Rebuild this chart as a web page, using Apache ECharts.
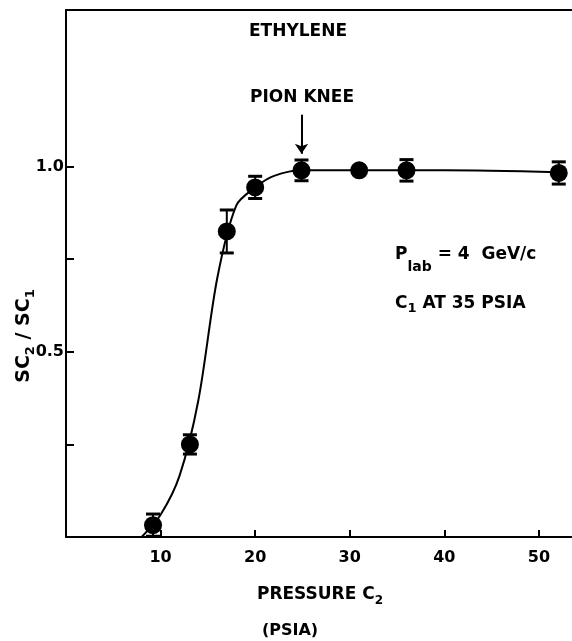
<!DOCTYPE html>
<html>
<head>
<meta charset="utf-8">
<script src="https://cdn.jsdelivr.net/npm/echarts@6/dist/echarts.min.js"></script>
<style>
  html, body { margin: 0; padding: 0; background: #fff; }
  #main { width: 572px; height: 641px; }
</style>
</head>
<body>
<div id="main"></div>
<script>
  // measured points (pressure C2 in PSIA, ratio SC2/SC1, half error bar)
  const pressure = [9.2, 13.1, 17.0, 20.0, 24.9, 31.0, 36.0, 52.1];
  const ratio = [0.032, 0.25, 0.825, 0.944, 0.99, 0.99, 0.99, 0.983];
  const ratioErr = [0.03, 0.026, 0.058, 0.03, 0.028, 0, 0.029, 0.03];

  // hand drawn fit curve
  const curveX = [8, 10, 12, 14, 16, 18, 20, 22, 25, 30, 40, 52.1];
  const curveY = [0.0, 0.06, 0.165, 0.37, 0.70, 0.895, 0.944, 0.975, 0.99, 0.99, 0.99, 0.985];

  // axis ticks
  const xTicks = [10, 20, 30, 40, 50];
  const yTicks = [0.25, 0.5, 0.75, 1.0];
  const yLabelVals = [0.5, 1.0];

  const FONT = '"DejaVu Sans", sans-serif';
  var ctx = document.createElement("canvas").getContext("2d");
  function measure(font, text) {
    ctx.font = font;
    return ctx.measureText(text).width;
  }
  // a run of text with subscripts, laid out piece by piece
  function textRun(x, y, parts, align, rotation) {
    var children = [];
    var cx = 0;
    parts.forEach(function (p) {
      var font = "bold " + p[1] + "px " + FONT;
      children.push({
        type: "text",
        x: cx,
        y: p[2] || 0,
        style: { text: p[0], font: font, fill: "#000", textAlign: "left", textVerticalAlign: "middle" },
      });
      cx += measure(font, p[0]);
    });
    if (align === "center") {
      children.forEach(function (c) { c.x -= cx / 2; });
    }
    return { type: "group", x: x, y: y, rotation: rotation || 0, silent: true, children: children };
  }

  var chartDom = document.getElementById("main");
  var myChart = echarts.init(chartDom);

  var axisLineStyle = { color: "#000", width: 2 };

  let option = {
    animation: false,
    backgroundColor: "#fff",
    grid: { left: 66, right: 0, top: 10, bottom: 104 },
    xAxis: [
      {
        type: "value",
        min: 0,
        max: 53.5,
        position: "bottom",
        axisLine: { show: true, onZero: false, lineStyle: axisLineStyle },
        axisTick: { show: true, inside: true, length: 7, customValues: xTicks, lineStyle: axisLineStyle },
        axisLabel: {
          customValues: xTicks,
          color: "#000",
          fontFamily: FONT,
          fontWeight: "bold",
          fontSize: 16,
          margin: 13,
        },
        splitLine: { show: false },
      },
      {
        type: "value",
        min: 0,
        max: 53.5,
        position: "top",
        axisLine: { show: true, onZero: false, lineStyle: axisLineStyle },
        axisTick: { show: false },
        axisLabel: { show: false },
        splitLine: { show: false },
      },
    ],
    yAxis: {
      type: "value",
      min: 0,
      max: 1.423,
      axisLine: { show: true, onZero: false, lineStyle: axisLineStyle },
      axisTick: { show: true, inside: true, length: 8, customValues: yTicks, lineStyle: axisLineStyle },
      axisLabel: {
        customValues: yLabelVals,
        formatter: function (v) { return v.toFixed(1); },
        color: "#000",
        fontFamily: FONT,
        fontWeight: "bold",
        fontSize: 16,
        margin: 2,
        padding: [0, 0, 8, 0],
      },
      splitLine: { show: false },
    },
    series: [
      {
        type: "line",
        data: curveX.map(function (x, i) { return [x, curveY[i]]; }),
        smooth: 0.3,
        showSymbol: false,
        lineStyle: { color: "#000", width: 2 },
        silent: true,
        markLine: {
          silent: true,
          symbol: ["none", "arrow"],
          symbolSize: 10,
          label: { show: false },
          lineStyle: { color: "#000", width: 2, type: "solid" },
          data: [[{ coord: [24.9, 1.14] }, { coord: [24.9, 1.035] }]],
        },
      },
      {
        type: "custom",
        data: pressure.map(function (x, i) { return [x, ratio[i], ratioErr[i]]; }),
        renderItem: function (params, api) {
          var x = api.value(0), y = api.value(1), e = api.value(2);
          if (!e) return { type: "group", children: [] };
          var top = api.coord([x, y + e]);
          var bot = api.coord([x, y - e]);
          var w = 7;
          var st = { stroke: "#000", lineWidth: 2 };
          var cap = { stroke: "#000", lineWidth: 3 };
          return {
            type: "group",
            children: [
              { type: "line", shape: { x1: top[0], y1: top[1], x2: bot[0], y2: bot[1] }, style: st },
              { type: "line", shape: { x1: top[0] - w, y1: top[1], x2: top[0] + w, y2: top[1] }, style: cap },
              { type: "line", shape: { x1: bot[0] - w, y1: bot[1], x2: bot[0] + w, y2: bot[1] }, style: cap },
            ],
          };
        },
        silent: true,
        z: 3,
      },
      {
        type: "scatter",
        data: pressure.map(function (x, i) { return [x, ratio[i]]; }),
        symbol: "circle",
        symbolSize: 18,
        itemStyle: { color: "#000", opacity: 1 },
        silent: true,
        z: 4,
      },
    ],
    graphic: [
      textRun(298, 32, [["ETHYLENE", 17]], "center"),
      textRun(302, 98, [["PION KNEE", 17]], "center"),
      textRun(395, 255, [["P", 17], ["lab", 14, 12], [" = 4  GeV/c", 17]], "left"),
      textRun(395, 304, [["C", 17], ["1", 13, 5], [" AT 35 PSIA", 17]], "left"),
      textRun(320, 595, [["PRESSURE C", 17], ["2", 12, 6]], "center"),
      textRun(290, 631, [["(PSIA)", 16]], "center"),
      textRun(24, 336, [["SC", 19], ["2", 13, 7], [" / ", 19], ["SC", 19], ["1", 13, 7]], "center", Math.PI / 2),
    ],
  };
  myChart.setOption(option);
</script>
</body>
</html>
